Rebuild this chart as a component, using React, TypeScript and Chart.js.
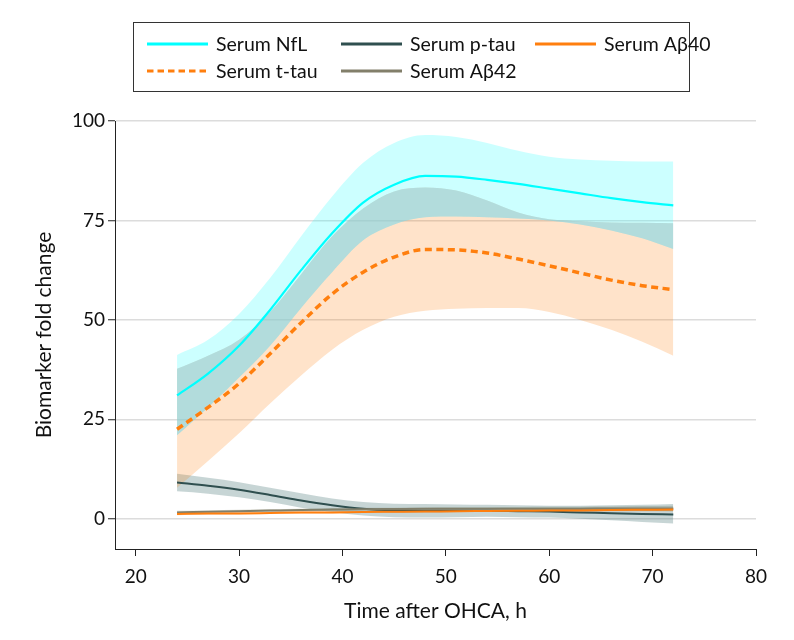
import { useEffect, useRef } from "react";
import { Chart, registerables } from "chart.js";

Chart.register(...registerables);

// Hours after OHCA
const hours = [24, 27, 30, 33, 36, 39, 42, 45, 48, 51, 54, 57, 60, 63, 66, 69, 72];

// Serum NfL
const nflMean = [31, 36.5, 43.5, 52.5, 62.5, 71.8, 79.5, 84, 86.2, 86, 85.2, 84.2, 83, 81.8, 80.6, 79.6, 78.8];
const nflUpper = [41.2, 45, 51.5, 60.5, 71, 81, 89.5, 94.5, 96.5, 96, 94.5, 92.5, 91, 90.3, 90, 89.8, 89.8];
const nflLower = [21, 28, 35.5, 43.5, 53, 62, 70, 74, 75.8, 76, 75.8, 75.5, 75, 74, 72.5, 70.5, 67.8];

// Serum t-tau
const ttauMean = [22.5, 28, 34, 41.5, 49.3, 56.5, 62, 65.8, 67.7, 67.6, 66.8, 65.3, 63.6, 61.8, 60, 58.6, 57.6];
const ttauUpper = [37.7, 41, 45, 52, 61.5, 71, 78, 82.3, 83.3, 82.5, 80, 77, 75.3, 74.8, 74.5, 74.4, 74.3];
const ttauLower = [7.8, 14.5, 21.5, 29, 36, 42.5, 47.5, 50.8, 52.3, 52.8, 53, 53, 52, 50, 47.5, 44.5, 41];

// Serum p-tau
const ptauMean = [9.1, 8.3, 7.3, 6, 4.6, 3.4, 2.5, 2.1, 2, 2, 2, 1.9, 1.8, 1.6, 1.4, 1.2, 1.1];
const ptauUpper = [11.3, 10.3, 9.2, 7.8, 6.4, 5.1, 4.2, 3.8, 3.7, 3.6, 3.5, 3.4, 3.3, 3.3, 3.4, 3.5, 3.7];
const ptauLower = [6.9, 6.3, 5.4, 4.2, 2.8, 1.7, 0.8, 0.4, 0.3, 0.4, 0.5, 0.4, 0.3, 0, -0.4, -0.8, -1.2];

// Serum Abeta42
const ab42Mean = [1.6, 1.75, 1.9, 2.05, 2.2, 2.3, 2.4, 2.45, 2.5, 2.5, 2.5, 2.55, 2.55, 2.55, 2.6, 2.6, 2.6];
const ab42Upper = [2.0, 2.1, 2.25, 2.4, 2.55, 2.65, 2.75, 2.8, 2.85, 2.9, 2.9, 2.95, 3.0, 3.05, 3.1, 3.2, 3.3];
const ab42Lower = [1.2, 1.4, 1.55, 1.7, 1.85, 1.95, 2.05, 2.1, 2.15, 2.1, 2.1, 2.15, 2.1, 2.05, 2.1, 2.0, 1.9];

// Serum Abeta40
const ab40Mean = [1.2, 1.3, 1.35, 1.45, 1.55, 1.6, 1.7, 1.75, 1.8, 1.9, 1.95, 2.0, 2.05, 2.1, 2.2, 2.25, 2.3];
const ab40Upper = [1.5, 1.55, 1.6, 1.7, 1.8, 1.85, 1.95, 2.0, 2.05, 2.15, 2.2, 2.25, 2.3, 2.4, 2.5, 2.6, 2.7];
const ab40Lower = [0.9, 1.05, 1.1, 1.2, 1.3, 1.35, 1.45, 1.5, 1.55, 1.65, 1.7, 1.75, 1.8, 1.8, 1.9, 1.9, 1.9];

const xTicks = [20, 30, 40, 50, 60, 70, 80];
const yTicks = [0, 25, 50, 75, 100];

const FONT = "Lato, 'Open Sans', sans-serif";

const CYAN = "#00FFFF";
const ORANGE = "#FF7F0E";
const SLATE = "#2F4F4F";
const OLIVE = "#827F6A";

const pts = (ys: number[]) => hours.map((h, i) => ({ x: h, y: ys[i] }));

// overlap of NfL and t-tau confidence bands
const ovUpper = hours.map((_, i) => Math.min(nflUpper[i], ttauUpper[i]));
const ovLower = hours.map((_, i) => {
  const lo = Math.max(nflLower[i], ttauLower[i]);
  return Math.min(lo, ovUpper[i]);
});

const legendItems = [
  { label: "Serum NfL", color: CYAN, dash: [] as number[], col: 0, row: 0 },
  { label: "Serum p-tau", color: SLATE, dash: [], col: 1, row: 0 },
  { label: "Serum Aβ40", color: ORANGE, dash: [], col: 2, row: 0 },
  { label: "Serum t-tau", color: ORANGE, dash: [6.5, 4], col: 0, row: 1 },
  { label: "Serum Aβ42", color: OLIVE, dash: [], col: 1, row: 1 },
];

const legendPlugin = {
  id: "boxLegend",
  afterDraw(chart: any) {
    const ctx = chart.ctx as CanvasRenderingContext2D;
    ctx.save();
    ctx.strokeStyle = "#333";
    ctx.lineWidth = 1;
    ctx.strokeRect(133.5, 22.5, 556, 69);
    const colX = [147, 341, 535];
    const rowY = [44, 71];
    ctx.font = `19.5px ${FONT}`;
    ctx.textBaseline = "middle";
    ctx.fillStyle = "#111";
    for (const it of legendItems) {
      const x = colX[it.col];
      const y = rowY[it.row];
      ctx.beginPath();
      ctx.setLineDash(it.dash);
      ctx.strokeStyle = it.color;
      ctx.lineWidth = 3;
      ctx.moveTo(x, y);
      ctx.lineTo(x + 61, y);
      ctx.stroke();
      ctx.setLineDash([]);
      ctx.fillText(it.label, x + 69, y + 1);
    }
    ctx.restore();
  },
};

const band = (upper: number[], lower: number[], color: string) => [
  {
    data: pts(upper),
    borderWidth: 0,
    borderColor: "rgba(0,0,0,0)",
    pointRadius: 0,
    fill: false,
  },
  {
    data: pts(lower),
    borderWidth: 0,
    borderColor: "rgba(0,0,0,0)",
    backgroundColor: color,
    pointRadius: 0,
    fill: "-1",
  },
];

const line = (ys: number[], color: string, width: number, dash: number[] = []) => ({
  data: pts(ys),
  borderColor: color,
  borderWidth: width,
  borderDash: dash,
  pointRadius: 0,
  fill: false,
});

export default function App() {
  const ref = useRef<HTMLCanvasElement | null>(null);
  useEffect(() => {
    if (!ref.current) return;
    const chart = new Chart(ref.current, {
      type: "line",
      data: {
        datasets: [
          line(ab40Mean, ORANGE, 2),
          line(ab42Mean, OLIVE, 2),
          line(ptauMean, SLATE, 2),
          line(ttauMean, ORANGE, 3.5, [7, 4.5]),
          line(nflMean, CYAN, 2.2),
          ...band(ovUpper, ovLower, "rgba(152,208,227,0.5)"),
          ...band(nflUpper, nflLower, "rgba(0,255,255,0.2)"),
          ...band(ttauUpper, ttauLower, "rgba(255,127,14,0.22)"),
          ...band(ptauUpper, ptauLower, "rgba(47,100,100,0.27)"),
          ...band(ab42Upper, ab42Lower, "rgba(128,128,100,0.3)"),
          ...band(ab40Upper, ab40Lower, "rgba(255,127,14,0.25)"),
        ] as any,
      },
      options: {
        responsive: false,
        animation: false,
        devicePixelRatio: 1,
        elements: { line: { cubicInterpolationMode: "monotone" } },
        layout: { padding: { left: 0, right: 38, top: 121, bottom: 0 } },
        plugins: {
          legend: { display: false },
          tooltip: { enabled: false },
          filler: { drawTime: "beforeDatasetsDraw" },
        } as any,
        scales: {
          x: {
            type: "linear",
            min: 18,
            max: 80,
            afterBuildTicks: (s: any) => {
              s.ticks = xTicks.map((v) => ({ value: v }));
            },
            afterFit: (s: any) => {
              s.height = 91;
            },
            grid: {
              drawOnChartArea: false,
              drawTicks: true,
              tickLength: 7,
              tickColor: "#222",
              tickWidth: 1,
            },
            border: { display: true, color: "#222", width: 1 },
            ticks: {
              font: { family: FONT, size: 19 },
              color: "#111",
              padding: 9,
              maxRotation: 0,
            },
            title: {
              display: true,
              text: "Time after OHCA, h",
              font: { family: FONT, size: 21 },
              color: "#111",
              padding: { top: 0, bottom: 16 },
            },
          },
          y: {
            type: "linear",
            min: -7.6,
            max: 100,
            afterBuildTicks: (s: any) => {
              s.ticks = yTicks.map((v) => ({ value: v }));
            },
            afterFit: (s: any) => {
              s.width = 115;
            },
            grid: {
              color: "#dcdcdc",
              lineWidth: 1.5,
              drawTicks: true,
              tickLength: 7,
              tickColor: "#222",
              tickWidth: 1,
            },
            border: { display: true, color: "#222", width: 1 },
            ticks: {
              font: { family: FONT, size: 19 },
              color: "#111",
              padding: 3,
            },
            title: {
              display: true,
              text: "Biomarker fold change",
              font: { family: FONT, size: 21 },
              color: "#111",
              padding: { top: 32, bottom: 0 },
            },
          },
        },
      },
      plugins: [legendPlugin],
    });
    return () => chart.destroy();
  }, []);
  return (
    <div style={{ position: "absolute", left: 0, top: 0, width: 794, height: 640, background: "#fff" }}>
      <canvas ref={ref} width={794} height={640} />
    </div>
  );
}
